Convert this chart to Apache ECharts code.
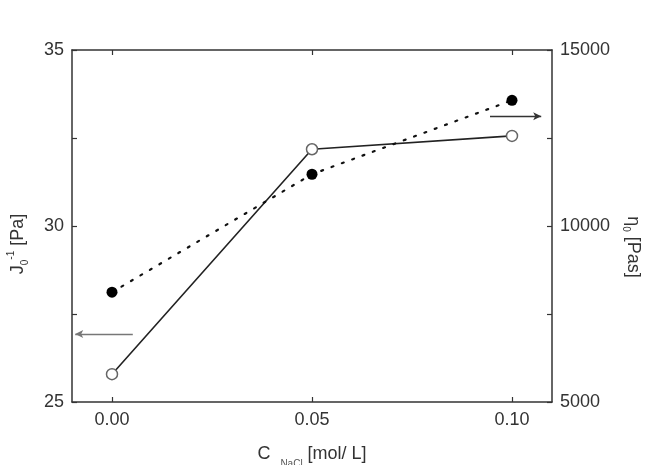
<!DOCTYPE html>
<html><head><meta charset="utf-8">
<script src="https://cdn.jsdelivr.net/npm/echarts@6/dist/echarts.min.js"></script>
<style>html,body{margin:0;padding:0;background:#fff}#c{width:650px;height:465px}</style>
</head><body><div id="c"></div>
<script>
const concentrations = [0.00, 0.05, 0.10];
const xTicks = [0.00, 0.05, 0.10];
const compliance = [28.12, 31.47, 33.57];      // J0^-1 [Pa], left axis, filled
const viscosity = [5790, 12180, 12560];         // eta0 [Pas], right axis, open
const leftArrow = [[0.0052, 26.93], [-0.0092, 26.93]];
const rightArrow = [[0.0945, 33.12], [0.1073, 33.12]];

const font = 'Liberation Sans, Arial, sans-serif';
const axisColor = '#333';
const chart = echarts.init(document.getElementById('c'));
chart.setOption({
  animation: false,
  textStyle: { fontFamily: font },
  grid: { left: 72, right: 98, top: 50, bottom: 63, show: false, containLabel: false, outerBoundsMode: 'none' },
  xAxis: [{
    type: 'value', min: -0.01, max: 0.11, position: 'bottom',
    axisLine: { onZero: false, lineStyle: { color: axisColor, width: 1.5 } },
    axisTick: { inside: true, length: 5, customValues: xTicks, lineStyle: { color: axisColor, width: 1.2 } },
    axisLabel: { customValues: xTicks, formatter: v => v.toFixed(2), fontSize: 18, color: '#333', margin: 9, fontFamily: font },
    splitLine: { show: false },
    name: '{a|C  }{sub|NaCl}{a| [mol/ L]}', nameLocation: 'middle', nameGap: 43,
    nameTextStyle: { rich: {
      a: { fontSize: 18, color: '#333', fontFamily: font, lineHeight: 24, verticalAlign: 'top' },
      sub: { fontSize: 10, color: '#555', fontFamily: font, lineHeight: 24, verticalAlign: 'bottom' }
    } }
  }, {
    type: 'value', min: -0.01, max: 0.11, position: 'top',
    axisLine: { onZero: false, lineStyle: { color: axisColor, width: 1.5 } },
    axisTick: { inside: true, length: 5, customValues: xTicks, lineStyle: { color: axisColor, width: 1.2 } },
    axisLabel: { show: false },
    splitLine: { show: false }
  }],
  yAxis: [{
    type: 'value', min: 25, max: 35, interval: 5, position: 'left',
    axisLine: { show: true, onZero: false, lineStyle: { color: axisColor, width: 1.5 } },
    axisTick: { show: true, inside: true, length: 5, lineStyle: { color: axisColor, width: 1.2 } },
    minorTick: { show: true, splitNumber: 2, length: 5, lineStyle: { color: axisColor, width: 1.2 } },
    axisLabel: { fontSize: 18, color: '#333', margin: 8, fontFamily: font },
    splitLine: { show: false },
    name: '{a|J}{sub|0}{sup|-1}{a| [Pa]}', nameLocation: 'middle', nameGap: 42, nameRotate: 90,
    nameTextStyle: { padding: [0, 36, 0, 0], rich: {
      a: { fontSize: 18, color: '#333', fontFamily: font, lineHeight: 24, verticalAlign: 'middle' },
      sub: { fontSize: 10, color: '#333', fontFamily: font, lineHeight: 24, verticalAlign: 'bottom' },
      sup: { fontSize: 10, color: '#333', fontFamily: font, lineHeight: 24, verticalAlign: 'top' }
    } }
  }, {
    type: 'value', min: 5000, max: 15000, interval: 5000, position: 'right',
    axisLine: { show: true, onZero: false, lineStyle: { color: axisColor, width: 1.5 } },
    axisTick: { show: true, inside: true, length: 5, lineStyle: { color: axisColor, width: 1.2 } },
    minorTick: { show: true, splitNumber: 2, length: 5, lineStyle: { color: axisColor, width: 1.2 } },
    axisLabel: { fontSize: 18, color: '#333', margin: 8, fontFamily: font, formatter: v => String(v) },
    splitLine: { show: false },
    name: '{a|η}{sub|0}{a| [Pas]}', nameLocation: 'middle', nameGap: 68, nameRotate: -90,
    nameTextStyle: { padding: [0, 0, 0, 42], rich: {
      a: { fontSize: 18, color: '#333', fontFamily: font, lineHeight: 24, verticalAlign: 'middle' },
      sub: { fontSize: 10, color: '#333', fontFamily: font, lineHeight: 24, verticalAlign: 'bottom' }
    } }
  }],
  series: [{
    type: 'line', xAxisIndex: 0, yAxisIndex: 1, z: 2,
    data: concentrations.map((x, i) => [x, viscosity[i]]),
    symbol: 'circle', symbolSize: 11,
    lineStyle: { color: '#222', width: 1.6 },
    itemStyle: { color: '#fff', borderColor: '#666', borderWidth: 1.5 }
  }, {
    type: 'line', xAxisIndex: 0, yAxisIndex: 0, z: 3,
    data: concentrations.map((x, i) => [x, compliance[i]]),
    symbol: 'circle', symbolSize: 11,
    lineStyle: { color: '#111', width: 2.2, type: [2, 9], cap: 'round' },
    itemStyle: { color: '#000' },
    markLine: {
      silent: true, symbol: ['none', 'arrow'], symbolSize: [6, 8],
      label: { show: false }, emphasis: { disabled: true },
      data: [
        [{ coord: leftArrow[0], lineStyle: { color: '#777', width: 1.3, type: 'solid' } }, { coord: leftArrow[1] }],
        [{ coord: rightArrow[0], lineStyle: { color: '#333', width: 1.3, type: 'solid' } }, { coord: rightArrow[1] }]
      ]
    }
  }]
});
</script></body></html>
